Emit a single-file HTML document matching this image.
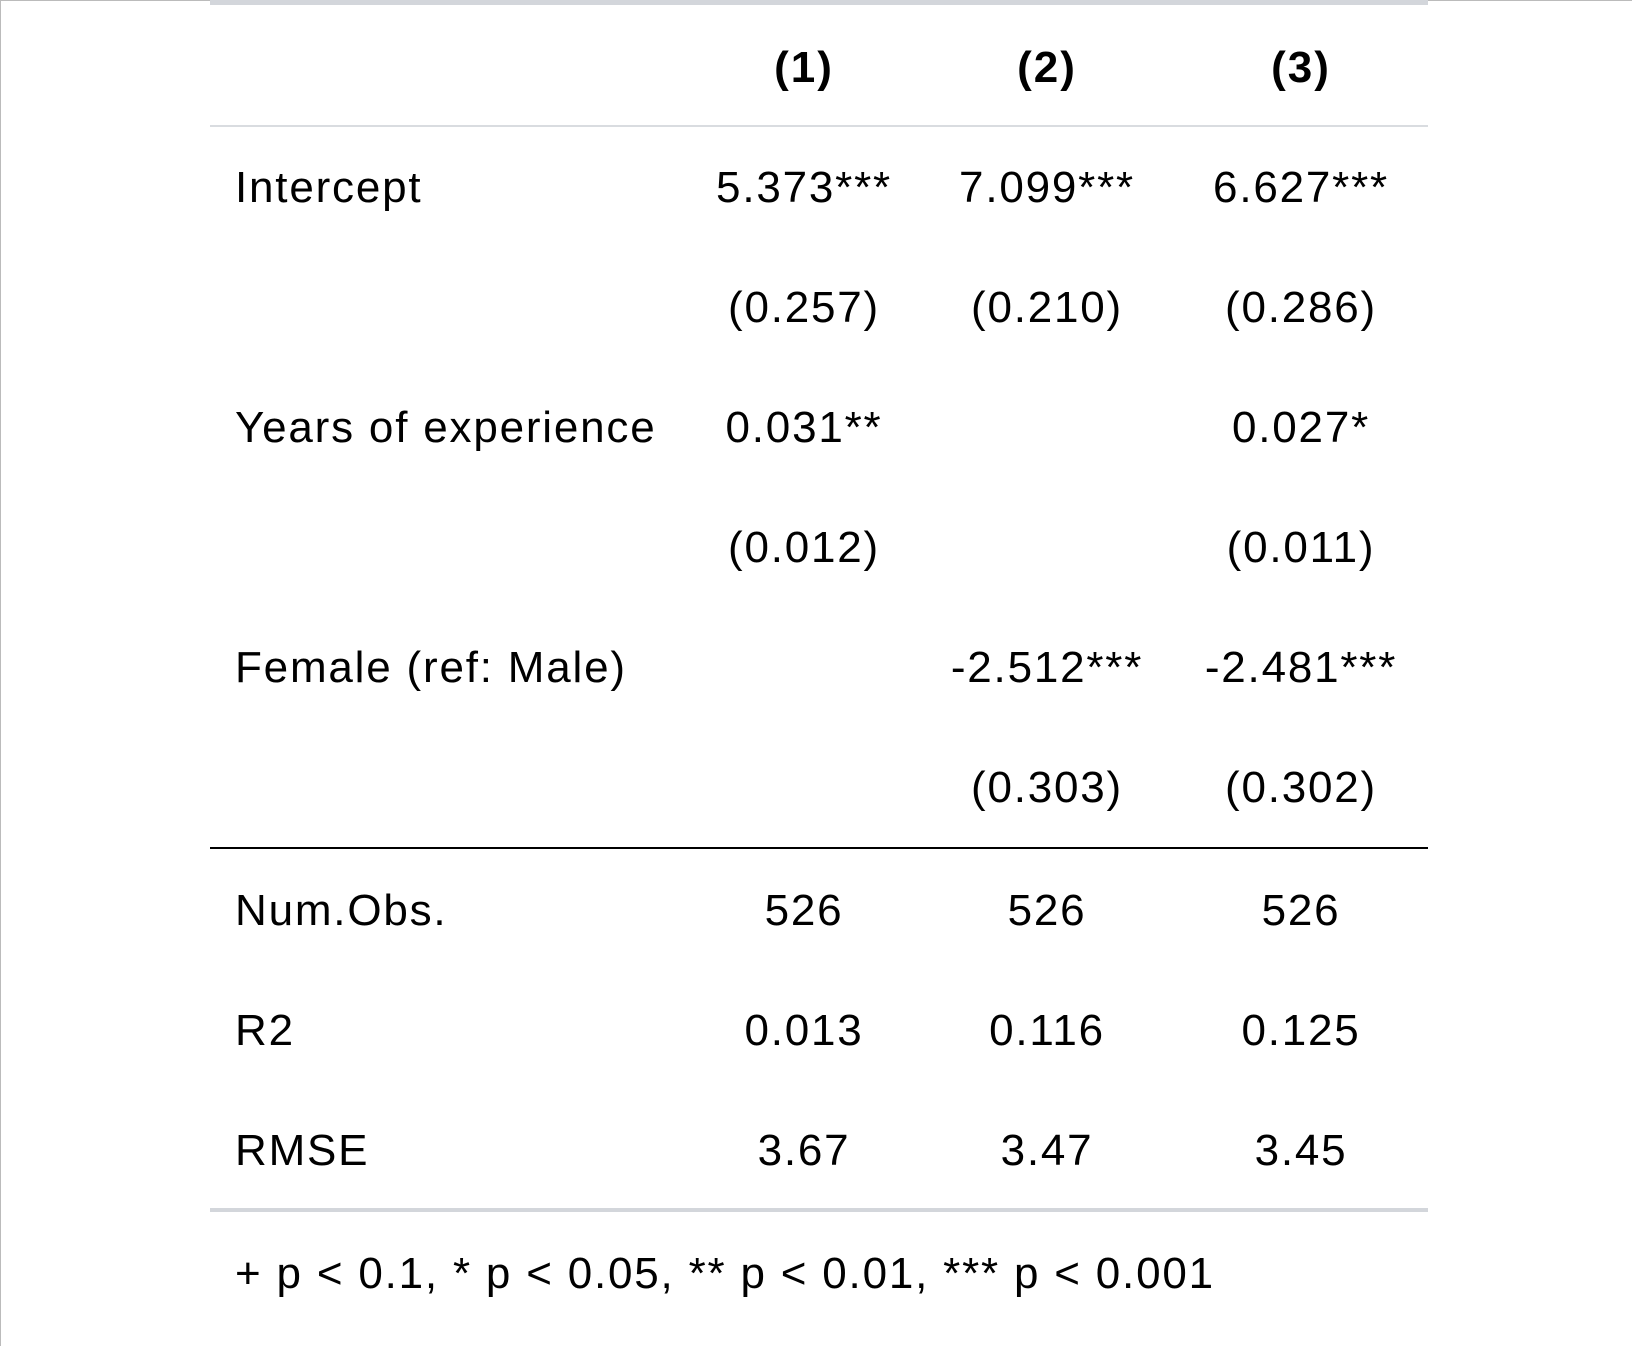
<!DOCTYPE html>
<html><head><meta charset="utf-8"><style>
html,body{margin:0;padding:0;background:#fff;}
body{width:1632px;height:1346px;position:relative;overflow:hidden;font-family:"Liberation Sans",sans-serif;color:#000;}
.frame{position:absolute;left:0;top:0;width:1631px;height:1345px;border-left:1px solid #bbb;border-top:1px solid #bbb;}
.hl{position:absolute;left:210px;width:1218px;}
.t{position:absolute;font-size:44px;letter-spacing:1.8px;line-height:50px;height:50px;white-space:nowrap;}
.l{left:235px;}
.c{transform:translateX(-50%);}
.b{font-weight:bold;letter-spacing:2px;}
</style></head><body>
<div class="frame"></div>
<div class="hl" style="top:0;height:5px;background:#d3d6db"></div>
<div class="hl" style="top:125px;height:2px;background:#d9dce0"></div>
<div class="hl" style="top:847px;height:2px;background:#000"></div>
<div class="hl" style="top:1208px;height:4px;background:#d3d6db"></div>

<div class="t b c" style="left:804px;top:43px">(1)</div>
<div class="t b c" style="left:1047px;top:43px">(2)</div>
<div class="t b c" style="left:1301px;top:43px">(3)</div>

<div class="t l" style="top:163px">Intercept</div>
<div class="t c" style="left:804px;top:163px">5.373***</div>
<div class="t c" style="left:1047px;top:163px">7.099***</div>
<div class="t c" style="left:1301px;top:163px">6.627***</div>

<div class="t c" style="left:804px;top:283px">(0.257)</div>
<div class="t c" style="left:1047px;top:283px">(0.210)</div>
<div class="t c" style="left:1301px;top:283px">(0.286)</div>

<div class="t l" style="top:403px">Years of experience</div>
<div class="t c" style="left:804px;top:403px">0.031**</div>
<div class="t c" style="left:1301px;top:403px">0.027*</div>

<div class="t c" style="left:804px;top:523px">(0.012)</div>
<div class="t c" style="left:1301px;top:523px">(0.011)</div>

<div class="t l" style="top:643px">Female (ref: Male)</div>
<div class="t c" style="left:1047px;top:643px">-2.512***</div>
<div class="t c" style="left:1301px;top:643px">-2.481***</div>

<div class="t c" style="left:1047px;top:763px">(0.303)</div>
<div class="t c" style="left:1301px;top:763px">(0.302)</div>

<div class="t l" style="top:886px">Num.Obs.</div>
<div class="t c" style="left:804px;top:886px">526</div>
<div class="t c" style="left:1047px;top:886px">526</div>
<div class="t c" style="left:1301px;top:886px">526</div>

<div class="t l" style="top:1006px">R2</div>
<div class="t c" style="left:804px;top:1006px">0.013</div>
<div class="t c" style="left:1047px;top:1006px">0.116</div>
<div class="t c" style="left:1301px;top:1006px">0.125</div>

<div class="t l" style="top:1126px">RMSE</div>
<div class="t c" style="left:804px;top:1126px">3.67</div>
<div class="t c" style="left:1047px;top:1126px">3.47</div>
<div class="t c" style="left:1301px;top:1126px">3.45</div>

<div class="t l" style="top:1249px">+ p &lt; 0.1, * p &lt; 0.05, ** p &lt; 0.01, *** p &lt; 0.001</div>
</body></html>
